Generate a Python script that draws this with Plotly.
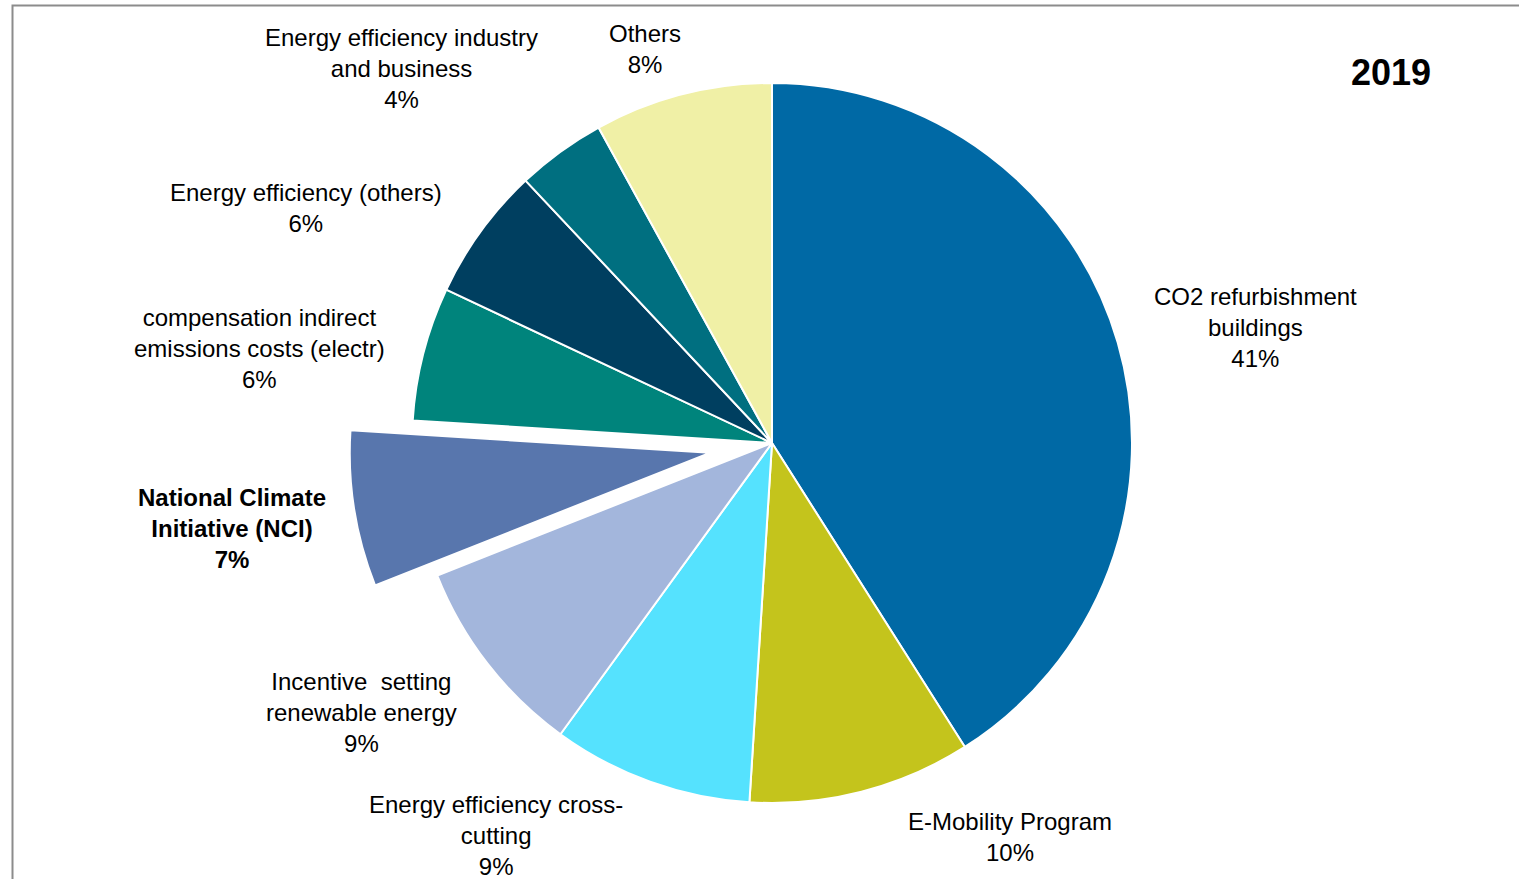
import plotly.graph_objects as go

W, H = 1519, 879

categories = [
    "CO2 refurbishment buildings",
    "E-Mobility Program",
    "Energy efficiency cross-cutting",
    "Incentive setting renewable energy",
    "National Climate Initiative (NCI)",
    "compensation indirect emissions costs (electr)",
    "Energy efficiency (others)",
    "Energy efficiency industry and business",
    "Others",
]
shares = [41, 10, 9, 9, 7, 6, 6, 4, 8]
display_names = [
    "CO2 refurbishment<br>buildings",
    "E-Mobility Program",
    "Energy efficiency cross-<br>cutting",
    "Incentive\u00a0 setting<br>renewable energy",
    "National Climate<br>Initiative (NCI)",
    "compensation indirect<br>emissions costs (electr)",
    "Energy efficiency (others)",
    "Energy efficiency industry<br>and business",
    "Others",
]
year_label = "2019"

colors = ["#0069a5", "#c4c41c", "#55e2fe", "#a3b6dc", "#5876ad",
          "#00847c", "#003f60", "#006f80", "#f0f0a6"]
highlight = "National Climate Initiative (NCI)"

# pie geometry in pixels
cx, cy, r = 772, 443, 360
pull_amt = 0.175
half = r * (1 + pull_amt)

# label centres in pixels, same order as categories
label_pos = [(1255, 327), (1010, 837), (496, 835), (361, 712), (232, 528),
             (259, 348), (306, 208), (401, 68), (645, 49)]

fig = go.Figure(go.Pie(
    labels=categories,
    values=shares,
    sort=False,
    direction="clockwise",
    rotation=0,
    pull=[pull_amt if c == highlight else 0 for c in categories],
    marker=dict(colors=colors, line=dict(color="white", width=2)),
    textinfo="none",
    showlegend=False,
    domain=dict(x=[(cx - half) / W, (cx + half) / W],
                y=[(H - cy - half) / H, (H - cy + half) / H]),
))

font = dict(family="Liberation Sans, Arial, sans-serif", size=24, color="black")
for name, disp, val, (px, py) in zip(categories, display_names, shares, label_pos):
    text = f"{disp}<br>{val}%"
    if name == highlight:
        text = f"<b>{text}</b>"
    fig.add_annotation(x=px / W, y=1 - py / H, xref="paper", yref="paper",
                       text=text, showarrow=False, xanchor="center", yanchor="middle",
                       font=font)

fig.add_annotation(x=1391 / W, y=1 - 72 / H, xref="paper", yref="paper",
                   text=f"<b>{year_label}</b>", showarrow=False,
                   xanchor="center", yanchor="middle",
                   font=dict(family="Liberation Sans, Arial, sans-serif", size=36, color="black"))

# chart frame (only top and left edges visible)
fig.add_shape(type="rect", xref="paper", yref="paper",
              x0=12.5 / W, x1=1.05, y0=-0.05, y1=1 - 5.5 / H,
              line=dict(color="#8c8c8c", width=2))

fig.update_layout(width=W, height=H, margin=dict(l=0, r=0, t=0, b=0),
                  paper_bgcolor="white", plot_bgcolor="white")

fig.write_html("out.html", config={"displayModeBar": False},
               post_script="document.body.style.margin='0';")
